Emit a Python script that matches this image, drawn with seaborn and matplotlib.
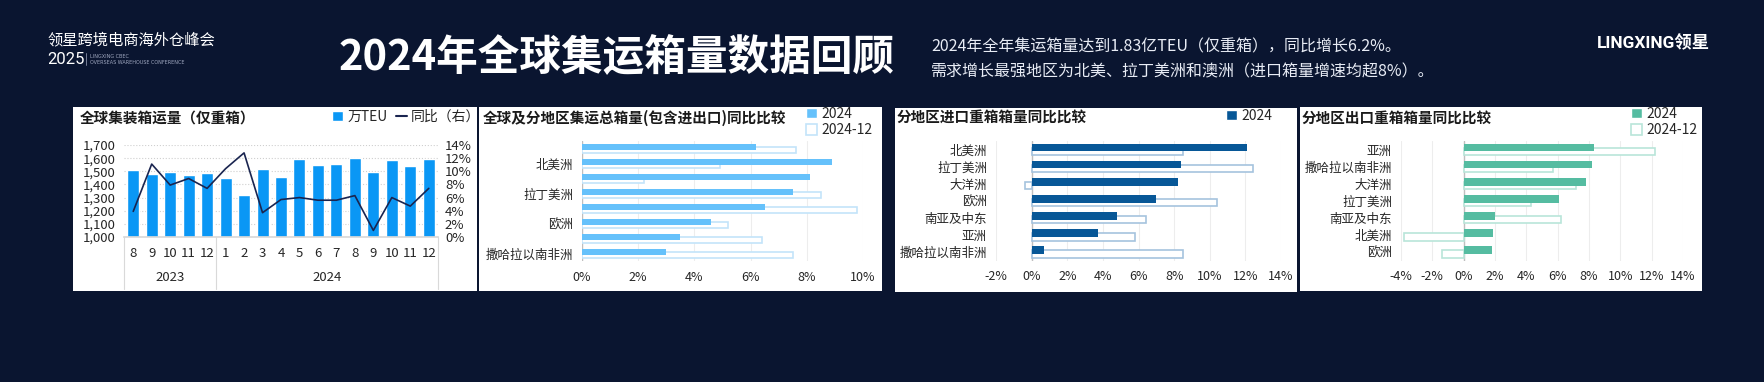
import numpy as np
import pandas as pd
import matplotlib.pyplot as plt
import seaborn as sns
from matplotlib.patches import Rectangle, Patch
from matplotlib.lines import Line2D
from matplotlib.transforms import blended_transform_factory
from matplotlib.ticker import FuncFormatter

# ---- datos ----
months = ['8', '9', '10', '11', '12', '1', '2', '3', '4', '5', '6', '7', '8', '9', '10', '11', '12']
years = ['2023'] * 5 + ['2024'] * 12
teu = [1509, 1478, 1494, 1471, 1486, 1448, 1318, 1517, 1455, 1593, 1547, 1555, 1600, 1494, 1585, 1539, 1593]
yoy = [3.9, 11.1, 7.9, 8.9, 7.4, 10.4, 12.8, 3.7, 5.7, 6.0, 5.6, 5.6, 6.3, 1.0, 6.0, 4.7, 7.4]

tot_regions = ['全球', '北美洲', '大洋洲', '拉丁美洲', '亚洲', '欧洲', '南亚及中东', '撒哈拉以南非洲']
tot_labels = ['', '北美洲', '', '拉丁美洲', '', '欧洲', '', '撒哈拉以南非洲']
tot_2024 = [6.2, 8.9, 8.1, 7.5, 6.5, 4.6, 3.5, 3.0]
tot_dec = [7.6, 4.9, 2.2, 8.5, 9.8, 5.2, 6.4, 7.5]

imp_regions = ['北美洲', '拉丁美洲', '大洋洲', '欧洲', '南亚及中东', '亚洲', '撒哈拉以南非洲']
imp_2024 = [12.1, 8.4, 8.2, 7.0, 4.8, 3.7, 0.7]
imp_dec = [8.5, 12.4, -0.4, 10.4, 6.4, 5.8, 8.5]

exp_regions = ['亚洲', '撒哈拉以南非洲', '大洋洲', '拉丁美洲', '南亚及中东', '北美洲', '欧洲']
exp_2024 = [8.3, 8.2, 7.8, 6.1, 2.0, 1.9, 1.8]
exp_dec = [12.2, 5.7, 7.2, 4.3, 6.2, -3.8, -1.4]

W, H = 1764, 382
BG = '#0a1530'
TXT = '#262626'

sns.set_theme(style='white')
plt.rcParams['font.family'] = ['Noto Sans CJK SC', 'DejaVu Sans']

fig = plt.figure(figsize=(W / 100, H / 100), dpi=100, facecolor=BG)


def box(x0, y0, x1, y1):
    return [x0 / W, 1 - y1 / H, (x1 - x0) / W, (y1 - y0) / H]


def ftext(x, y, s, **kw):
    kw.setdefault('va', 'center')
    fig.text(x / W, 1 - y / H, s, **kw)


pct = FuncFormatter(lambda v, p: f'{int(round(v))}%')

# fondos blancos de cada tarjeta
for x0, y0, x1, y1 in [(73, 107, 477, 291), (479, 107, 882, 291), (895, 108, 1297, 292), (1300, 107, 1702, 291)]:
    fig.patches.append(Rectangle((x0 / W, 1 - y1 / H), (x1 - x0) / W, (y1 - y0) / H,
                                 transform=fig.transFigure, facecolor='white', edgecolor='none', zorder=-1))

# encabezado
ftext(47, 40, '领星跨境电商海外仓峰会', fontsize=11, color='white')
ftext(47, 60, '2025', fontsize=12, color='white', family=['Roboto', 'DejaVu Sans'])
fig.add_artist(Line2D([86 / W, 86 / W], [1 - 53 / H, 1 - 65 / H], color='#8890a8', lw=0.6))
ftext(90, 56, 'LINGXING CBEC', fontsize=3.5, color='#a0a8c0', family=['DejaVu Sans'])
ftext(90, 62, 'OVERSEAS WAREHOUSE CONFERENCE', fontsize=3.5, color='#a0a8c0', family=['DejaVu Sans'])
ftext(339, 58, '2024年全球集运箱量数据回顾', fontsize=30, fontweight='bold', color='white')
ftext(931, 47, '2024年全年集运箱量达到1.83亿TEU（仅重箱），同比增长6.2%。', fontsize=11.5, color='#e8ecf5')
ftext(931, 72, '需求增长最强地区为北美、拉丁美洲和澳洲（进口箱量增速均超8%）。', fontsize=11.5, color='#e8ecf5')
ftext(1597, 43, 'LINGXING领星', fontsize=12.5, fontweight='bold', color='white',
      family=['Roboto', 'Noto Sans CJK SC'])

# ---- Panel 1: volumen mensual + interanual ----
ax1 = fig.add_axes(box(124, 145, 438, 237))
ax1.set_facecolor('none')
df1 = pd.DataFrame({'period': [f'{y}-{m}' for y, m in zip(years, months)], 'teu': teu})
sns.barplot(data=df1, x='period', y='teu', color='#0a97f5', saturation=1, width=0.65, ax=ax1)
ax1.set_ylim(1000, 1700)
ax1.set_yticks(range(1000, 1701, 100))
ax1.yaxis.set_major_formatter(FuncFormatter(lambda v, p: f'{int(v):,}'))
ax1.set_xticks(range(len(months)))
ax1.set_xticklabels(months)
ax1.set_xlabel('')
ax1.set_ylabel('')
ax1.tick_params(axis='both', length=0, labelsize=9.5, colors=TXT)
ax1.tick_params(axis='y', pad=6)
ax1.tick_params(axis='x', pad=7)
for s in ['top', 'right', 'left']:
    ax1.spines[s].set_visible(False)
ax1.spines['bottom'].set_color('#d9d9d9')
ax1.yaxis.grid(True, ls=':', color='#cfcfcf', lw=0.8)
ax1.set_axisbelow(True)

ax1r = ax1.twinx()
sns.lineplot(x=np.arange(len(yoy)), y=yoy, ax=ax1r, color='#1a2550', lw=1.2)
ax1r.set_ylim(0, 14)
ax1r.set_yticks(range(0, 15, 2))
ax1r.yaxis.set_major_formatter(pct)
ax1r.tick_params(length=0, labelsize=9.5, colors=TXT, pad=5)
for s in ax1r.spines.values():
    s.set_visible(False)

tr = blended_transform_factory(ax1.transData, ax1.transAxes)
n23 = years.count('2023')
for b in [-0.5, n23 - 0.5, len(years) - 0.5]:
    ax1.plot([b, b], [0, -0.56], transform=tr, clip_on=False, color='#d9d9d9', lw=0.8)
ax1.text((n23 - 1) / 2, -0.435, '2023', transform=tr, ha='center', va='center', fontsize=9.5, color=TXT)
ax1.text((n23 + len(years) - 1) / 2, -0.435, '2024', transform=tr, ha='center', va='center', fontsize=9.5, color=TXT)
ax1.set_xlim(-0.5, len(teu) - 0.5)

ftext(80, 119, '全球集装箱运量（仅重箱）', fontsize=10.5, fontweight='bold', color='#1a1a1a')
fig.legend([Patch(facecolor='#0a97f5'), Line2D([0], [0], color='#1a2550', lw=1.5)], ['万TEU', '同比（右）'],
           loc='center left', bbox_to_anchor=(332 / W, 1 - 117 / H), ncol=2, frameon=False, fontsize=10,
           handlelength=0.8, handleheight=0.8, handletextpad=0.3, columnspacing=0.6,
           borderpad=0, borderaxespad=0, labelcolor='#262626')


# ---- Paneles de barras horizontales ----
def hbar(ax, regions, v24, vdec, fill, edge, xlim, step, labels=None):
    n = len(regions)
    df = pd.DataFrame({'region': regions + regions, 'val': v24 + vdec,
                       'series': ['2024'] * n + ['2024-12'] * n})
    sns.barplot(data=df, y='region', x='val', hue='series', hue_order=['2024', '2024-12'],
                palette=[fill, 'white'], saturation=1, width=0.44, dodge=True, legend=False, ax=ax)
    for cont, z in ((ax.containers[1], 2), (ax.containers[0], 3)):
        for bar in cont:
            c = bar.get_y() + bar.get_height() / 2
            bar.set_height(0.44)
            bar.set_y(c - 0.22)
            bar.set_zorder(z)
            if z == 2:
                bar.set_edgecolor(edge)
                bar.set_linewidth(1.2)
            else:
                bar.set_edgecolor('none')
    ax.set_facecolor('none')
    ax.set_xlim(*xlim)
    ax.set_xticks(np.arange(xlim[0], xlim[1] + 0.1, step))
    ax.xaxis.set_major_formatter(pct)
    ax.set_ylim(n - 0.5, -0.5)
    if labels is not None:
        ax.set_yticks(range(n))
        ax.set_yticklabels(labels)
    ax.axvline(0, color='#bfbfbf', lw=1, zorder=1.5)
    ax.xaxis.grid(True, color='#ededed', lw=0.8)
    ax.set_axisbelow(True)
    for s in ax.spines.values():
        s.set_visible(False)
    ax.set_xlabel('')
    ax.set_ylabel('')
    ax.tick_params(axis='both', length=0, labelsize=9, colors=TXT)
    ax.tick_params(axis='y', pad=6.5)
    ax.tick_params(axis='x', pad=7)


def hlegend(fill, edge, x, y, both=True):
    h = [Patch(facecolor=fill)]
    lab = ['2024']
    if both:
        h.append(Patch(facecolor='white', edgecolor=edge, lw=1.2))
        lab.append('2024-12')
    fig.legend(h, lab, loc='upper left', bbox_to_anchor=(x / W, 1 - y / H), frameon=False, fontsize=10,
               handlelength=0.8, handleheight=0.8, handletextpad=0.3, labelspacing=0.15,
               borderpad=0, borderaxespad=0, labelcolor='#262626')


ax2 = fig.add_axes(box(582, 141, 863, 261))
hbar(ax2, tot_regions, tot_2024, tot_dec, '#65c1fb', '#c3e4fa', (0, 10), 2, tot_labels)
ftext(483, 118, '全球及分地区集运总箱量(包含进出口)同比比较', fontsize=10.5, fontweight='bold', color='#1a1a1a')
hlegend('#65c1fb', '#c3e4fa', 806, 107)

ax3 = fig.add_axes(box(996, 141, 1281, 260.5))
hbar(ax3, imp_regions, imp_2024, imp_dec, '#075797', '#a5c3de', (-2, 14), 2)
ftext(897, 118, '分地区进口重箱箱量同比比较', fontsize=10.5, fontweight='bold', color='#1a1a1a')
hlegend('#075797', '#a5c3de', 1226, 109, both=False)

ax4 = fig.add_axes(box(1401, 141, 1683, 260.5))
hbar(ax4, exp_regions, exp_2024, exp_dec, '#55bca1', '#b9e5d9', (-4, 14), 2)
ftext(1302, 118, '分地区出口重箱箱量同比比较', fontsize=10.5, fontweight='bold', color='#1a1a1a')
hlegend('#55bca1', '#b9e5d9', 1631, 107)

fig.savefig('out.png', dpi=100, facecolor=BG)
